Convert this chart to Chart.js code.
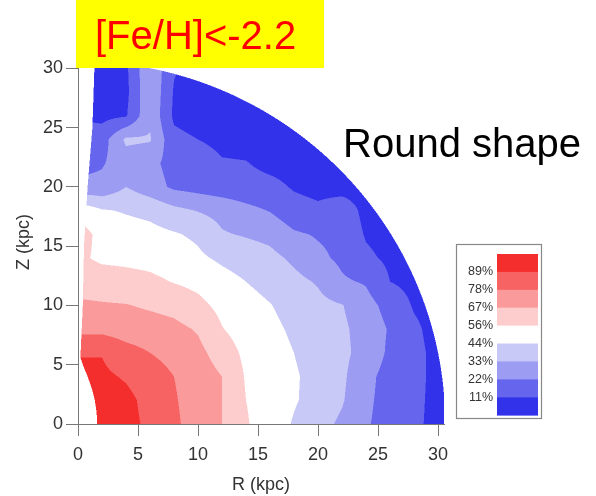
<!DOCTYPE html>
<html>
<head>
<meta charset="utf-8">
<script src="https://cdn.jsdelivr.net/npm/chart.js@4.4.1/dist/chart.umd.min.js"></script>
<style>
  html, body { margin: 0; padding: 0; background: #fff; }
  canvas { display: block; }
</style>
</head>
<body>
<canvas id="chart" width="596" height="496"></canvas>
<script>
// grid nodes in kpc
const rValues = [0, 2, 4, 6, 8, 10, 12, 14, 16, 18, 20, 22, 24, 26, 28, 30];
const zValues = [0, 2, 4, 6, 8, 10, 12, 14, 16, 18, 20, 22, 24, 26, 28, 30];

// fraction (%) at each node, one row per Z value, one column per R value
const fraction = [
  [100, 96, 92, 87, 80, 73, 67, 57, 50, 43, 37, 31, 23, 18, 13, 8],
  [97, 94, 91.5, 86, 79, 73, 67, 56, 51, 45, 40, 34, 24, 18, 13.5, 8],
  [91, 91, 88, 84, 78, 73, 67, 55, 50, 45, 41, 35, 25, 18, 14, 8],
  [88.5, 88.5, 82, 78, 74, 70, 62, 53.5, 49, 44, 40, 35.5, 29, 20, 14, 8],
  [75, 75, 73, 72, 70, 66, 56.5, 51, 47, 42, 39, 35, 28.5, 21, 13, 7],
  [69, 68, 67.5, 65.5, 63.5, 59, 53, 48.5, 44.5, 39.5, 36, 33.5, 26, 18, 10, 7],
  [62, 61.5, 60, 58.5, 55.5, 53, 48, 44, 40, 36, 32, 23.5, 21, 11, 8, 7],
  [58, 54, 53.5, 52.5, 50, 46, 42, 39, 36, 31, 24.5, 19.7, 13, 9, 7, 7],
  [62, 52, 49, 47.5, 45, 42, 34, 32, 30, 23.5, 21, 19, 10, 7, 7, 7],
  [52, 45, 43, 41, 36, 32.5, 29.5, 25, 21.5, 15, 13, 17, 8, 7, 7, 7],
  [25, 25, 33, 27, 20, 18, 16, 15, 14, 10, 8, 7, 7, 7, 7, 7],
  [18, 21, 28, 25, 18, 17, 12, 11.5, 8, 7, 6, 6, 6, 6, 6, 6],
  [16, 17, 35, 34, 14, 11, 8, 7, 6, 6, 6, 6, 6, 6, 6, 6],
  [10, 8, 10, 31, 9, 6, 5, 5, 5, 5, 5, 5, 5, 5, 5, 5],
  [8, 6, 8, 32, 10, 6, 6, 6, 6, 6, 6, 6, 6, 6, 6, 6],
  [8, 6, 9, 32, 12, 6, 6, 6, 6, 6, 6, 6, 6, 6, 6, 6]
];

// contour levels (%) and the colour of each band, highest first
const levels = [89, 78, 67, 56, 44, 33, 22, 11];
const bandColors = ['#f42d2d', '#f76262', '#fa9a9a', '#fdcccc', '#ffffff',
                    '#c9c9f7', '#9c9cf2', '#6565ee', '#3232ea'];

// edge of the sampled region (kpc): outer radius and inner left boundary
const rimRadius = 30.6;
const edgeZ = [0, 1, 2, 3, 4, 5, 5.6, 10, 15, 20, 25, 31];
const edgeR = [1.6, 1.55, 1.4, 1.15, 0.8, 0.4, 0.2, 0.4, 0.5, 0.8, 1.2, 1.4];

const xTickValues = [0, 5, 10, 15, 20, 25, 30];
const yTickValues = [0, 5, 10, 15, 20, 25, 30];

const FONT = "'Liberation Sans', Arial, Helvetica, sans-serif";
Chart.defaults.font.family = FONT;

function locate(arr, v) {
  const n = arr.length - 1;
  if (v <= arr[0]) return [0, 0];
  if (v >= arr[n]) return [n - 1, 1];
  let i = 0;
  while (arr[i + 1] < v) i++;
  return [i, (v - arr[i]) / (arr[i + 1] - arr[i])];
}

function valueAt(R, Z) {
  const [i, fx] = locate(rValues, R);
  const [j, fy] = locate(zValues, Z);
  const a = fraction[j][i], b = fraction[j][i + 1];
  const c = fraction[j + 1][i], d = fraction[j + 1][i + 1];
  return (a * (1 - fx) + b * fx) * (1 - fy) + (c * (1 - fx) + d * fx) * fy;
}

function leftEdge(Z) {
  const [i, f] = locate(edgeZ, Z);
  return edgeR[i] * (1 - f) + edgeR[i + 1] * f;
}

function band(v) {
  const k = levels.findIndex(l => v >= l);
  return k < 0 ? levels.length : k;
}

function hexToRgb(h) {
  return [1, 3, 5].map(p => parseInt(h.substr(p, 2), 16));
}

const contourPlugin = {
  id: 'contour',
  beforeDatasetsDraw(chart) {
    const { ctx, chartArea: a, scales: { x, y } } = chart;
    const left = Math.round(a.left), top = Math.round(a.top);
    const w = Math.round(a.right) - left, h = Math.round(a.bottom) - top;
    const off = document.createElement('canvas');
    off.width = w; off.height = h;
    const octx = off.getContext('2d');
    const img = octx.createImageData(w, h);
    const rgb = bandColors.map(hexToRgb);
    const sub = [0.25, 0.75];
    for (let j = 0; j < h; j++) {
      for (let i = 0; i < w; i++) {
        let r = 0, g = 0, b = 0, n = 0;
        for (const sy of sub) {
          const Z = y.getValueForPixel(top + j + sy);
          if (Z < 0) continue;
          const le = leftEdge(Z);
          for (const sx of sub) {
            const R = x.getValueForPixel(left + i + sx);
            if (R < le || R * R + Z * Z > rimRadius * rimRadius) continue;
            const c = rgb[band(valueAt(R, Z))];
            r += c[0]; g += c[1]; b += c[2]; n++;
          }
        }
        if (!n) continue;
        const k = (j * w + i) * 4;
        img.data[k] = r / n;
        img.data[k + 1] = g / n;
        img.data[k + 2] = b / n;
        img.data[k + 3] = 255 * n / 4;
      }
    }
    octx.putImageData(img, 0, 0);
    ctx.drawImage(off, left, top);
  }
};

const overlayPlugin = {
  id: 'overlay',
  afterDraw(chart) {
    const ctx = chart.ctx;
    ctx.save();

    // colour key
    const bx = 456, by = 244, bw = 85, bh = 174;
    const sx = 497, sy = 254, sw = 41, sh = 17.9;
    bandColors.forEach((c, i) => {
      ctx.fillStyle = c;
      ctx.fillRect(sx, sy + i * sh, sw, sh + 0.5);
    });
    ctx.strokeStyle = '#888';
    ctx.lineWidth = 1.2;
    ctx.strokeRect(bx + 0.5, by + 0.5, bw, bh);
    ctx.fillStyle = '#333';
    ctx.font = '12.5px ' + FONT;
    ctx.textAlign = 'right';
    ctx.textBaseline = 'middle';
    levels.forEach((l, i) => {
      ctx.fillText(l + '%', 493, sy + (i + 1) * sh);
    });

    // title box
    ctx.fillStyle = '#ffff00';
    ctx.fillRect(76, 0, 248, 68);
    ctx.fillStyle = '#ff0000';
    ctx.font = '40px ' + FONT;
    ctx.textAlign = 'left';
    ctx.textBaseline = 'alphabetic';
    ctx.fillText('[Fe/H]<-2.2', 95, 49);

    ctx.fillStyle = '#000';
    ctx.fillText('Round shape', 343, 157);
    ctx.restore();
  }
};

new Chart(document.getElementById('chart'), {
  type: 'scatter',
  data: { datasets: [{ data: [] }] },
  options: {
    responsive: false,
    animation: false,
    devicePixelRatio: 1,
    layout: { padding: { top: 60, right: 152, left: 0, bottom: 0 } },
    plugins: { legend: { display: false }, tooltip: { enabled: false } },
    scales: {
      x: {
        type: 'linear', min: 0, max: 30.5,
        afterFit(s) { s.height = 72; },
        afterBuildTicks(s) { s.ticks = xTickValues.map(v => ({ value: v })); },
        ticks: { color: '#333', font: { size: 18 }, padding: 8, maxRotation: 0, includeBounds: false },
        grid: { drawOnChartArea: false, tickLength: 12, color: '#777' },
        border: { color: '#777' },
        title: { display: true, text: 'R (kpc)', color: '#333', font: { size: 18 }, padding: { bottom: 0 } }
      },
      y: {
        type: 'linear', min: 0, max: 30.7,
        afterFit(s) { s.width = 78; },
        afterBuildTicks(s) { s.ticks = yTickValues.map(v => ({ value: v })); },
        ticks: { color: '#333', font: { size: 18 }, padding: 3, includeBounds: false },
        grid: { drawOnChartArea: false, tickLength: 12, color: '#777' },
        border: { color: '#777' },
        title: { display: true, text: 'Z (kpc)', color: '#333', font: { size: 18 }, padding: { top: 13 } }
      }
    }
  },
  plugins: [contourPlugin, overlayPlugin]
});
</script>
</body>
</html>
